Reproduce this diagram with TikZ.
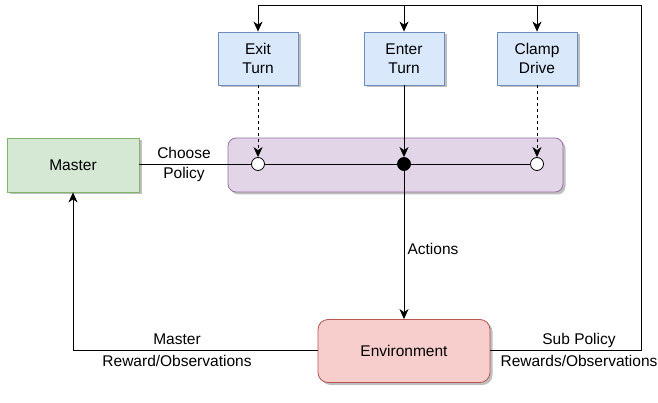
\documentclass[tikz,border=0pt]{standalone}
\usepackage{fontspec}
\setmainfont{Liberation Sans}
\usetikzlibrary{positioning,arrows.meta,shadows}
\definecolor{bluefill}{HTML}{DAE8FC}
\definecolor{bluedraw}{HTML}{6C8EBF}
\definecolor{greenfill}{HTML}{D5E8D4}
\definecolor{greendraw}{HTML}{82B366}
\definecolor{purplefill}{HTML}{E1D5E7}
\definecolor{purpledraw}{HTML}{9673A6}
\definecolor{redfill}{HTML}{F8CECC}
\definecolor{reddraw}{HTML}{B85450}

\begin{document}
\begin{tikzpicture}[x=1pt, y=-1pt,
  every node/.style={font=\fontsize{15.5}{18}\selectfont},
  shade/.style={drop shadow={shadow xshift=2.5pt, shadow yshift=-2.5pt, fill=black, opacity=0.25}},
  subbox/.style={draw=bluedraw, fill=bluefill, shade, minimum width=80pt, minimum height=53pt, align=center, line width=0.8pt},
  dot/.style={circle, draw, line width=0.8pt, minimum size=13pt, inner sep=0pt},
  arr/.style={-{Stealth[length=10pt, width=9pt, inset=3pt]}, line width=0.9pt},
  lbl/.style={align=center, inner sep=0pt},
]
  \useasboundingbox (0,0) rectangle (658,403);

  % switch bar
  \node[draw=purpledraw, fill=purplefill, shade, rounded corners=8pt, line width=0.8pt,
        minimum width=335pt, minimum height=54pt] (bar) at (395.5,165) {};

  % boxes
  \node[draw=greendraw, fill=greenfill, shade, minimum width=132pt, minimum height=54pt, line width=0.8pt] (master) at (73,165) {Master};
  \node[subbox] (exit) at (258,58.5) {Exit\\[1pt]Turn};
  \node[subbox] (enter) at (404,58.5) {Enter\\[1pt]Turn};
  \node[subbox] (clamp) at (537,58.5) {Clamp\\[1pt]Drive};
  \node[draw=reddraw, fill=redfill, shade, rounded corners=10pt, minimum width=172pt, minimum height=63pt, line width=0.8pt] (env) at (404,351) {Environment};

  % switch points
  \node[dot, fill=white] (s1) at (258,164) {};
  \node[dot, fill=black] (s2) at (404,164) {};
  \node[dot, fill=white] (s3) at (537,164) {};
  \draw[line width=0.9pt] (master.east |- s1) -- (s1.west);
  \draw[line width=0.9pt] (s1.east) -- (s2.west);
  \draw[line width=0.9pt] (s2.east) -- (s3.west);
  \node[lbl] (choose) at (184,164) {Choose\\[2pt]Policy};

  \draw[arr, dash pattern=on 3pt off 3pt] (exit.south) -- (s1.north);
  \draw[arr] (enter.south) -- (s2.north);
  \draw[arr, dash pattern=on 3pt off 3pt] (clamp.south) -- (s3.north);

  % actions
  \draw[arr] (s2.south) -- (env.north);
  \node[lbl] (actions) at (433,249) {Actions};

  % master feedback
  \coordinate (ml) at (73,350);
  \draw[arr] (env.west |- ml) -- (ml) -- (master.south);
  \node[lbl] (mrew) at (177,350) {Master\\[4pt]Reward/Observations};

  % sub policy feedback
  \coordinate (tr) at (641,5);
  \draw[line width=0.9pt] (env.east |- ml) -| (tr) -- (tr -| exit);
  \draw[arr] (tr -| exit) -- (exit.north);
  \draw[arr] (tr -| enter) -- (enter.north);
  \draw[arr] (tr -| clamp) -- (clamp.north);
  \node[lbl] (srew) at (579,350) {Sub Policy\\[4pt]Rewards/Observations};
\end{tikzpicture}
\end{document}
